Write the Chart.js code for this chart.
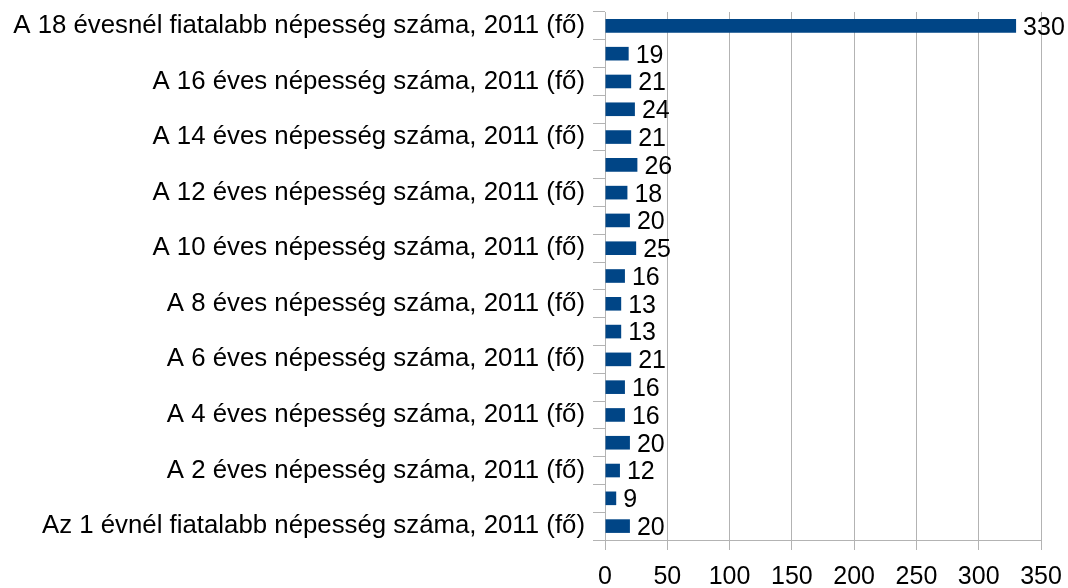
<!DOCTYPE html>
<html>
<head>
<meta charset="utf-8">
<script src="https://cdn.jsdelivr.net/npm/chart.js@4/dist/chart.umd.min.js"></script>
<style>
  html, body { margin: 0; padding: 0; background: #ffffff; }
  #wrap { width: 1068px; height: 588px; position: relative; }
</style>
</head>
<body>
<div id="wrap"><canvas id="c" width="1068" height="588"></canvas></div>
<script>
const categories = [
  "A 18 évesnél fiatalabb népesség száma, 2011 (fő)",
  "A 17 éves népesség száma, 2011 (fő)",
  "A 16 éves népesség száma, 2011 (fő)",
  "A 15 éves népesség száma, 2011 (fő)",
  "A 14 éves népesség száma, 2011 (fő)",
  "A 13 éves népesség száma, 2011 (fő)",
  "A 12 éves népesség száma, 2011 (fő)",
  "A 11 éves népesség száma, 2011 (fő)",
  "A 10 éves népesség száma, 2011 (fő)",
  "A 9 éves népesség száma, 2011 (fő)",
  "A 8 éves népesség száma, 2011 (fő)",
  "A 7 éves népesség száma, 2011 (fő)",
  "A 6 éves népesség száma, 2011 (fő)",
  "Az 5 éves népesség száma, 2011 (fő)",
  "A 4 éves népesség száma, 2011 (fő)",
  "A 3 éves népesség száma, 2011 (fő)",
  "A 2 éves népesség száma, 2011 (fő)",
  "Az 1 éves népesség száma, 2011 (fő)",
  "Az 1 évnél fiatalabb népesség száma, 2011 (fő)"
];
const values = [330, 19, 21, 24, 21, 26, 18, 20, 25, 16, 13, 13, 21, 16, 16, 20, 12, 9, 20];
const xMin = 0;
const xMax = 350;
const xStep = 50;

const FONT = "'Liberation Sans', Arial, sans-serif";
const GRID = '#b3b3b3';

const valueLabels = {
  id: 'valueLabels',
  afterDatasetsDraw(chart) {
    const ctx = chart.ctx;
    const meta = chart.getDatasetMeta(0);
    ctx.save();
    ctx.font = '25px ' + FONT;
    ctx.fillStyle = '#000000';
    ctx.textAlign = 'left';
    ctx.textBaseline = 'middle';
    meta.data.forEach((bar, i) => {
      ctx.fillText(String(values[i]), bar.x + 7, bar.y + 2);
    });
    ctx.restore();
  }
};

new Chart(document.getElementById('c'), {
  type: 'bar',
  data: {
    labels: categories,
    datasets: [{
      data: values,
      backgroundColor: '#004586',
      borderWidth: 0,
      categoryPercentage: 1.0,
      barPercentage: 0.49
    }]
  },
  options: {
    indexAxis: 'y',
    responsive: false,
    animation: false,
    devicePixelRatio: 1,
    layout: { padding: { top: 12, right: 27, bottom: 0, left: 0 } },
    plugins: { legend: { display: false }, tooltip: { enabled: false } },
    scales: {
      x: {
        min: xMin, max: xMax,
        afterFit(s) { s.height = 48; s.paddingLeft = 0; s.paddingRight = 0; },
        ticks: { stepSize: xStep, color: '#000', font: { family: FONT, size: 25 }, padding: 12, maxRotation: 0 },
        grid: { color: GRID, lineWidth: 1, tickLength: 10, drawTicks: true },
        border: { color: GRID, width: 1 }
      },
      y: {
        afterFit(s) { s.width = 605; s.paddingTop = 0; s.paddingBottom = 0; },
        ticks: {
          autoSkip: false,
          color: '#000',
          font: { family: FONT, size: 25.8 },
          padding: 8,
          callback(v, i) { return i % 2 === 0 ? categories[i] : ''; }
        },
        grid: { color: GRID, lineWidth: 1, drawOnChartArea: false, tickLength: 12, offset: true },
        border: { color: GRID, width: 1 }
      }
    }
  },
  plugins: [valueLabels]
});
</script>
</body>
</html>
